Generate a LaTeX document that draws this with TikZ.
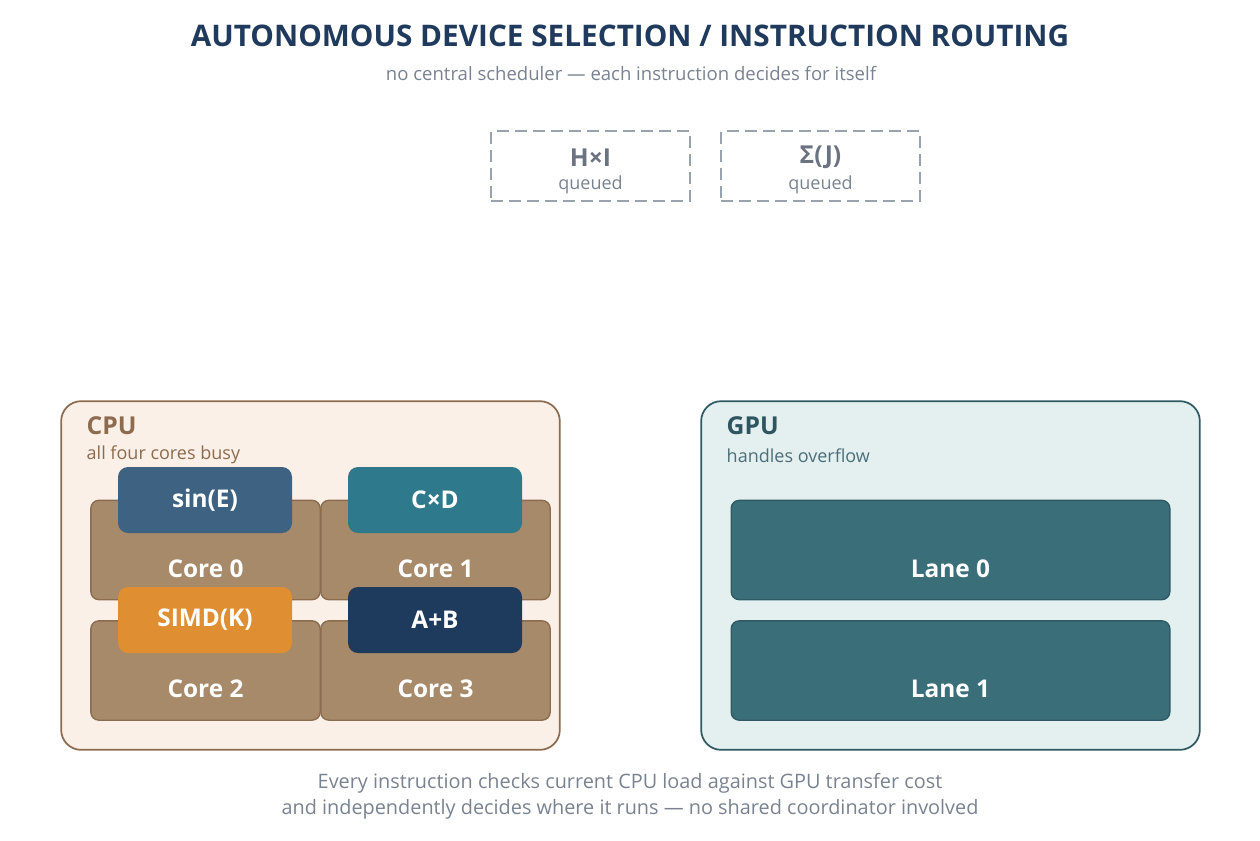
\documentclass[tikz,border=0pt]{standalone}
\usepackage{fontspec}
\setmainfont{Open Sans}
\definecolor{navy}{HTML}{1F3A5C}
\definecolor{subgray}{HTML}{7A8290}
\definecolor{qgray}{HTML}{6B7380}
\definecolor{qdash}{HTML}{9AA3AD}
\definecolor{cpufill}{HTML}{FAF0E8}
\definecolor{cpuline}{HTML}{8C6B4E}
\definecolor{corefill}{HTML}{A68A6A}
\definecolor{gpufill}{HTML}{E3F0EF}
\definecolor{gpuline}{HTML}{2F5A63}
\definecolor{gputext}{HTML}{2E5560}
\definecolor{lanefill}{HTML}{3A6E78}
\definecolor{chipA}{HTML}{3D6282}
\definecolor{chipB}{HTML}{2E7A8C}
\definecolor{chipC}{HTML}{E08E32}
\definecolor{chipD}{HTML}{1E3A5C}
\tikzset{
  panel/.style={draw, line width=1.3pt, rounded corners=15pt, inner sep=0pt},
  corebox/.style={draw=cpuline, fill=corefill, line width=1pt, rounded corners=6pt, minimum width=172pt, minimum height=74.5pt, inner sep=0pt},
  lanebox/.style={draw=gpuline, fill=lanefill, line width=1pt, rounded corners=6pt, minimum width=329pt, minimum height=74.5pt, inner sep=0pt},
  chip/.style={rounded corners=7.5pt, minimum width=130.5pt, minimum height=49.5pt, inner sep=0pt, text=white, font=\bfseries\fontsize{18.3}{22}\selectfont},
  celabel/.style={text=white, font=\bfseries\fontsize{18.3}{22}\selectfont},
  qbox/.style={draw=qdash, line width=1.3pt, dash pattern=on 9pt off 4.5pt, minimum width=149pt, minimum height=52.5pt, inner sep=0pt},
  qtitle/.style={text=qgray, font=\bfseries\fontsize{18.5}{22}\selectfont},
  qsub/.style={text=subgray, font=\fontsize{13.5}{16}\selectfont},
}
\begin{document}
\begin{tikzpicture}[x=0.75pt,y=-0.75pt]
\useasboundingbox (0,0) rectangle (1260,840);
% title
\node[text=navy, font=\bfseries\fontsize{22.3}{26}\selectfont] (title) at (630,36) {AUTONOMOUS DEVICE SELECTION / INSTRUCTION ROUTING};
\node[text=subgray, font=\fontsize{13.9}{16}\selectfont] (sub) at (631,73) {no central scheduler — each instruction decides for itself};
% queued
\node[qbox] (q1) at (590.5,166) {};
\node[qtitle] (q1t) at (590.5,158) {H×I};
\node[qsub] (q1s) at (590.5,185) {queued};
\node[qbox] (q2) at (820.5,166) {};
\node[qtitle] (q2t) at (820.5,157) {Σ(J)};
\node[qsub] (q2s) at (820.5,185) {queued};
% CPU panel
\node[panel, draw=cpuline, fill=cpufill, minimum width=374pt, minimum height=261.5pt] (cpu) at (310.5,575.5) {};
\node[anchor=west, text=cpuline, font=\bfseries\fontsize{18.5}{22}\selectfont] (cput) at (82,426) {CPU};
\node[anchor=west, text=cpuline, font=\fontsize{13.5}{16}\selectfont] (cpus) at (82,455) {all four cores busy};
\node[corebox] (c0) at (205.5,550) {};
\node[corebox] (c1) at (435.5,550) {};
\node[corebox] (c2) at (205.5,670.5) {};
\node[corebox] (c3) at (435.5,670.5) {};
\node[celabel] (c0l) at (205.5,568.5) {Core 0};
\node[celabel] (c1l) at (435.5,568.5) {Core 1};
\node[celabel] (c2l) at (205.5,688.5) {Core 2};
\node[celabel] (c3l) at (435.5,688.5) {Core 3};
\node[chip, fill=chipA] (i0) at (205,500) {sin(E)};
\node[chip, fill=chipB] (i1) at (435,500) {C×D};
\node[chip, fill=chipC] (i2) at (205,620) {SIMD(K)};
\node[chip, fill=chipD] (i3) at (435,620) {A+B};
% GPU panel
\node[panel, draw=gpuline, fill=gpufill, minimum width=374pt, minimum height=261.5pt] (gpu) at (950.5,575.5) {};
\node[anchor=west, text=gputext, font=\bfseries\fontsize{18.5}{22}\selectfont] (gput) at (722,426) {GPU};
\node[anchor=west, text=gputext!85!white, font=\fontsize{13.5}{16}\selectfont] (gpus) at (722,456) {handles overflow};
\node[lanebox] (l0) at (950.5,550) {};
\node[lanebox] (l1) at (950.5,670.5) {};
\node[celabel] (l0l) at (950.5,568.5) {Lane 0};
\node[celabel] (l1l) at (950.5,688.5) {Lane 1};
% footer
\node[text=subgray, font=\fontsize{14.9}{18}\selectfont] (f1) at (630,783) {Every instruction checks current CPU load against GPU transfer cost};
\node[text=subgray, font=\fontsize{14.9}{18}\selectfont] (f2) at (630,809) {and independently decides where it runs — no shared coordinator involved};
\end{tikzpicture}
\end{document}
